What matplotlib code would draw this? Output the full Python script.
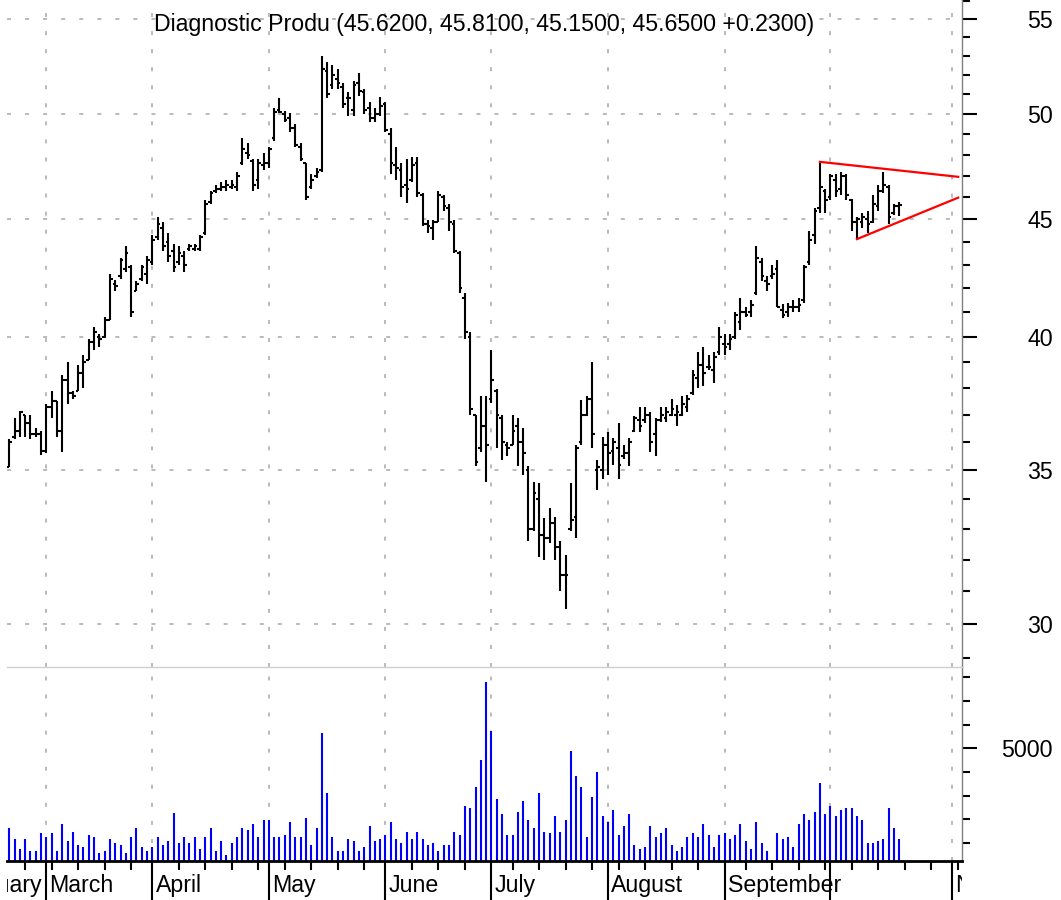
import matplotlib
matplotlib.use("Agg")
import matplotlib.pyplot as plt
import numpy as np
from matplotlib.ticker import FixedLocator, NullFormatter, FuncFormatter

plt.rcParams['font.family'] = ['Liberation Sans', 'DejaVu Sans']

# ---------------- data ----------------
title = "Diagnostic Produ (45.6200, 45.8100, 45.1500, 45.6500 +0.2300)"

highs = [
    36.1, 36.9, 37.15, 37.0, 37.0, 36.5, 36.4, 37.4, 37.9, 37.5,
    38.5, 39.0, 37.9, 38.9, 39.3, 39.9, 40.4, 40.1, 40.8, 42.6,
    42.35, 43.3, 43.8, 43.0, 42.3, 43.0, 43.4, 44.3, 45.1, 44.9,
    44.4, 43.9, 43.8, 43.6, 43.9, 43.9, 44.3, 45.9, 46.3, 46.6,
    46.7, 46.8, 46.8, 47.2, 48.8, 48.6, 47.8, 47.8, 48.1, 48.4,
    50.3, 50.8, 50.15, 50.05, 49.5, 48.6, 47.6, 47.1, 47.4, 53.0,
    52.7, 52.5, 52.3, 51.6, 51.1, 51.7, 52.1, 51.3, 50.6, 50.3,
    50.85, 50.6, 49.3, 48.4, 47.6, 47.8, 47.9, 47.9, 46.2, 44.95,
    44.95, 46.3, 46.1, 45.7, 44.95, 43.6, 41.8, 40.2, 37.0, 37.7,
    37.7, 39.5, 37.95, 37.0, 36.0, 37.0, 36.9, 36.5, 35.15, 34.6,
    34.55, 33.35, 33.7, 33.4, 32.6, 32.15, 34.55, 35.9, 37.55, 37.7,
    39.0, 35.35, 36.2, 36.35, 36.15, 36.7, 35.9, 36.15, 36.95, 37.3,
    37.3, 37.1, 36.9, 37.3, 37.3, 37.6, 37.35, 37.7, 37.75, 38.7,
    39.4, 39.6, 39.3, 39.4, 40.4, 40.1, 40.1, 41.0, 41.6, 41.2,
    41.5, 43.8, 43.3, 42.5, 43.0, 43.2, 41.35, 41.4, 41.5, 41.6,
    43.0, 44.5, 45.5, 47.6, 46.4, 47.1, 47.1, 47.2, 47.1, 45.95,
    45.1, 45.3, 45.4, 46.1, 46.6, 47.2, 46.6, 45.7, 45.81,
]
lows = [
    35.1, 36.1, 36.2, 36.2, 36.1, 36.2, 35.55, 35.6, 36.9, 36.2,
    35.65, 37.4, 37.6, 37.9, 38.0, 39.1, 39.5, 39.6, 39.95, 40.7,
    41.9, 42.4, 42.7, 40.8, 41.9, 42.3, 42.2, 43.0, 44.1, 43.6,
    43.1, 42.7, 43.0, 42.7, 43.6, 43.6, 43.6, 44.3, 45.7, 46.2,
    46.3, 46.3, 46.4, 46.3, 47.5, 47.8, 46.3, 46.4, 47.3, 47.4,
    48.7, 50.05, 49.6, 49.1, 48.4, 47.7, 45.9, 46.4, 46.9, 47.2,
    50.8, 51.3, 51.3, 50.3, 49.9, 49.9, 50.9, 50.0, 49.6, 49.6,
    49.9, 49.1, 47.1, 46.8, 46.0, 45.75, 46.7, 46.0, 44.7, 44.4,
    44.1, 44.9, 45.4, 44.5, 43.5, 41.8, 39.9, 37.0, 35.15, 35.65,
    34.6, 37.45, 35.8, 35.35, 35.5, 35.9, 35.15, 34.85, 32.6, 32.95,
    32.1, 32.0, 32.55, 32.0, 31.0, 30.45, 32.95, 32.7, 35.9, 36.95,
    35.8, 34.3, 34.7, 34.85, 35.2, 34.7, 35.4, 35.15, 36.35, 36.35,
    36.7, 35.65, 35.5, 36.75, 36.75, 36.95, 36.6, 36.95, 37.1, 37.75,
    38.0, 38.1, 38.7, 38.2, 39.3, 39.3, 39.5, 39.9, 40.3, 40.8,
    40.8, 41.7, 42.3, 41.9, 42.4, 41.2, 40.75, 40.8, 41.0, 41.0,
    41.4, 43.0, 43.9, 45.3, 45.3, 45.9, 46.0, 46.1, 45.9, 44.5,
    44.1, 44.6, 44.4, 44.85, 45.4, 46.2, 44.8, 45.2, 45.15,
]
opens = [
    35.1, 36.2, 36.4, 37.0, 36.7, 36.3, 36.3, 35.7, 37.3, 37.5,
    36.4, 38.3, 37.8, 37.9, 38.6, 39.1, 39.8, 40.0, 40.0, 40.7,
    42.2, 42.5, 42.8, 42.9, 41.9, 42.4, 42.6, 43.1, 44.2, 44.6,
    44.0, 43.6, 43.1, 43.4, 43.7, 43.7, 43.7, 44.4, 45.8, 46.3,
    46.4, 46.5, 46.5, 46.5, 47.6, 48.1, 47.7, 46.8, 47.5, 47.6,
    48.8, 50.2, 50.0, 49.8, 49.3, 48.4, 47.6, 46.5, 47.0, 47.3,
    52.2, 51.5, 51.8, 51.4, 50.8, 50.2, 51.6, 51.1, 50.3, 49.8,
    50.0, 50.5, 49.0, 47.5, 47.3, 46.6, 46.8, 47.6, 46.1, 44.8,
    44.6, 44.9, 46.0, 45.5, 44.8, 43.5, 41.6, 40.0, 37.0, 35.8,
    36.6, 37.6, 37.9, 36.9, 35.9, 35.9, 36.6, 36.0, 35.0, 33.0,
    34.0, 32.8, 32.7, 33.2, 32.4, 31.5, 33.0, 33.4, 36.0, 37.0,
    37.6, 35.0, 35.0, 35.9, 35.7, 35.8, 35.5, 35.6, 36.4, 36.8,
    36.8, 37.0, 36.3, 36.8, 36.9, 37.0, 37.0, 37.0, 37.3, 37.8,
    38.4, 38.9, 38.8, 38.7, 39.4, 39.7, 39.7, 40.0, 40.6, 41.0,
    41.0, 41.8, 43.1, 42.3, 42.5, 42.8, 41.1, 41.0, 41.2, 41.2,
    41.5, 43.1, 44.3, 45.5, 46.3, 46.0, 46.8, 46.4, 47.0, 45.9,
    44.9, 44.9, 45.0, 44.9, 45.6, 46.3, 46.5, 45.3, 45.62,
]
closes = [
    36.0, 36.4, 37.1, 36.7, 36.3, 36.3, 35.7, 37.3, 37.5, 36.4,
    38.3, 37.8, 37.7, 38.6, 39.0, 39.8, 40.2, 39.9, 40.7, 42.4,
    42.1, 43.2, 43.5, 41.0, 42.2, 42.9, 43.2, 44.1, 44.8, 43.8,
    43.4, 42.9, 43.5, 43.0, 43.8, 43.8, 44.2, 45.7, 46.2, 46.4,
    46.5, 46.6, 46.6, 47.0, 48.3, 48.0, 46.6, 47.6, 47.6, 48.3,
    50.1, 50.1, 49.7, 49.3, 48.5, 47.8, 46.0, 46.8, 47.2, 52.3,
    51.0, 52.0, 51.6, 50.5, 50.8, 51.5, 51.2, 50.2, 49.8, 50.0,
    50.4, 49.2, 47.6, 47.4, 46.5, 46.4, 47.5, 46.2, 44.8, 44.7,
    44.9, 46.1, 45.6, 44.9, 43.6, 42.0, 40.2, 37.2, 35.3, 36.6,
    35.9, 38.3, 37.0, 36.0, 35.8, 36.4, 36.0, 35.6, 33.0, 34.2,
    32.8, 32.7, 33.2, 32.4, 31.5, 31.5, 33.3, 35.8, 37.0, 37.6,
    36.3, 35.1, 35.9, 35.6, 36.0, 35.2, 35.6, 36.0, 36.9, 36.6,
    37.0, 36.0, 36.8, 37.0, 37.1, 37.2, 37.1, 37.4, 37.6, 38.5,
    38.9, 38.6, 38.8, 39.2, 40.0, 39.6, 39.9, 40.9, 41.0, 40.9,
    41.3, 43.3, 42.5, 42.2, 42.6, 41.2, 40.9, 41.2, 41.2, 41.3,
    42.9, 44.1, 45.4, 46.5, 45.9, 47.0, 46.3, 47.0, 46.1, 44.9,
    45.0, 45.1, 44.8, 45.7, 46.3, 46.6, 45.1, 45.6, 45.65,
]
volumes = [
    1645, 1152, 744, 1152, 659, 659, 1406, 1237, 1406, 659,
    1814, 1068, 1476, 899, 828, 1321, 1237, 575, 659, 1152,
    983, 899, 575, 1237, 1645, 828, 659, 828, 1237, 899,
    1068, 2279, 983, 1237, 983, 1237, 744, 1237, 1645, 659,
    1068, 504, 983, 1237, 1645, 1561, 1814, 1237, 1969, 1969,
    1237, 1237, 1321, 1885, 1237, 1237, 2054, 913, 1645, 5632,
    3110, 1237, 659, 659, 1152, 1068, 659, 828, 1730, 1068,
    1152, 1321, 1885, 1152, 983, 1476, 1152, 1476, 1152, 913,
    983, 659, 913, 913, 1476, 1321, 2547, 2462, 3364, 4505,
    7816, 5717, 2857, 2209, 1321, 1321, 2293, 2772, 1969, 1645,
    3110, 1476, 1406, 2138, 1476, 1969, 4900, 3843, 3350, 1237,
    2941, 4012, 2138, 1885, 2378, 1321, 1730, 2209, 913, 744,
    828, 1730, 1237, 1406, 1645, 913, 659, 828, 1237, 1406,
    1237, 1814, 1321, 828, 1321, 1406, 1152, 1321, 1814, 1068,
    744, 1885, 983, 659, 293, 1406, 1152, 1237, 828, 1814,
    2209, 1969, 2293, 3519, 2209, 2547, 2138, 2378, 2462, 2462,
    2138, 1969, 983, 983, 1068, 1152, 2462, 1645, 1152,
]

month_names = ['February', 'March', 'April', 'May', 'June', 'July',
               'August', 'September', '', 'November']
month_starts = [-12, 7, 27, 49, 71, 91, 113, 135, 155, 178]
week_ticks = [3, 8, 13, 18, 23, 32, 37, 42, 47, 52, 57, 62, 67, 76, 81, 86,
              95, 100, 105, 110, 115, 120, 125, 130, 139, 144, 149, 154,
              159, 164, 169, 174, 179]

price_major = [30, 35, 40, 45, 50, 55]
price_minor = [29, 31, 32, 33, 34, 36, 37, 38, 39, 41, 42, 43, 44, 46, 47,
               48, 49, 51, 52, 53, 54, 56]
vol_major = [5000]
vol_minor = [1000, 2000, 3000, 4000, 6000, 7000, 8000]

upper_x = [153, 179.1]
upper_y = [47.67, 46.96]
lower_x = [160, 179.1]
lower_y = [44.12, 45.99]

# ---------------- layout ----------------
W, H = 1061, 900
fig = plt.figure(figsize=(W / 100, H / 100), dpi=100)

x_left_px, x_right_px = 7, 961.7
L = x_left_px / W
AW = (x_right_px - x_left_px) / W
XLIM = (-0.43, 179.77)

ax_p = fig.add_axes([L, (H - 667) / H, AW, 667 / H])
ax_v = fig.add_axes([L, (H - 861) / H, AW, 194 / H])
ax_d = fig.add_axes([L, 0, AW, (H - 861) / H])

idx = np.arange(len(closes))
grid_kw = dict(color='#b4b4b4', linewidth=1.3, linestyle=(0, (2.2, 7.8)))
FS = 16.7

# ---- price panel ----
ax_p.set_yscale('log')
ax_p.set_xlim(*XLIM)
ax_p.set_ylim(28.74, 56.06)
ax_p.vlines(idx, lows, highs, color='black', linewidth=1.5)
ax_p.hlines(opens, idx - 0.5, idx, color='black', linewidth=1.5)
ax_p.hlines(closes, idx, idx + 0.5, color='black', linewidth=1.5)
ax_p.plot(upper_x, upper_y, color='#ff0000', linewidth=1.6)
ax_p.plot(lower_x, lower_y, color='#ff0000', linewidth=1.6)

ax_p.xaxis.set_major_locator(FixedLocator(month_starts))
ax_p.tick_params(axis='x', length=0, labelbottom=False)
ax_p.yaxis.tick_right()
ax_p.yaxis.set_major_locator(FixedLocator(price_major))
ax_p.yaxis.set_minor_locator(FixedLocator(price_minor))
ax_p.yaxis.set_major_formatter(FuncFormatter(lambda v, p: f"{v:g}"))
ax_p.yaxis.set_minor_formatter(NullFormatter())
ax_p.tick_params(axis='y', which='major', length=10.8, width=1.5,
                 color='black', labelsize=FS, pad=55)
ax_p.tick_params(axis='y', which='minor', length=5.5, width=1.5, color='black')
for t in ax_p.get_yticklabels():
    t.set_horizontalalignment('right')
ax_p.grid(True, which='major', axis='both', **grid_kw)
ax_p.set_axisbelow(True)
for s in ['top', 'left', 'bottom']:
    ax_p.spines[s].set_visible(False)
ax_p.spines['right'].set_color('#808080')
ax_p.spines['right'].set_linewidth(1.0)
ax_p.text(0.5, (667 - 31.5) / 667, title, transform=ax_p.transAxes,
          ha='center', va='baseline', fontsize=FS, color='black')

# ---- volume panel ----
ax_v.set_xlim(*XLIM)
vbase = 240
ax_v.set_ylim(vbase, 8440)
ax_v.vlines(idx, vbase, volumes, color='#0000ff', linewidth=1.5)
ax_v.xaxis.set_major_locator(FixedLocator(month_starts))
ax_v.tick_params(axis='x', length=0, labelbottom=False)
ax_v.yaxis.tick_right()
ax_v.yaxis.set_major_locator(FixedLocator(vol_major))
ax_v.yaxis.set_minor_locator(FixedLocator(vol_minor))
ax_v.yaxis.set_major_formatter(FuncFormatter(lambda v, p: f"{v:.0f}"))
ax_v.tick_params(axis='y', which='major', length=10.8, width=1.5,
                 color='black', labelsize=FS, pad=55)
ax_v.tick_params(axis='y', which='minor', length=5.5, width=1.5, color='black')
for t in ax_v.get_yticklabels():
    t.set_horizontalalignment('right')
ax_v.grid(True, which='major', axis='x', **grid_kw)
ax_v.set_axisbelow(True)
ax_v.spines['left'].set_visible(False)
ax_v.spines['top'].set_color('#d0d0d0')
ax_v.spines['top'].set_linewidth(1.0)
ax_v.spines['bottom'].set_color('black')
ax_v.spines['bottom'].set_linewidth(2.0)
ax_v.spines['right'].set_color('#808080')
ax_v.spines['right'].set_linewidth(1.0)

# ---- date strip ----
ax_d.set_xlim(*XLIM)
ax_d.set_ylim(0, 1)
ax_d.axis('off')
ax_d.vlines(month_starts, 0, 1, color='black', linewidth=1.5, clip_on=True)
ax_d.vlines(week_ticks, 1 - 9 / 39, 1, color='black', linewidth=1.5, clip_on=True)
for m, name in zip(month_starts, month_names):
    if name:
        ax_d.text(m + 0.6, (900 - 892.3) / 39, name, ha='left', va='baseline',
                  fontsize=FS, color='black', clip_on=True)

fig.savefig('out.png', dpi=100)
